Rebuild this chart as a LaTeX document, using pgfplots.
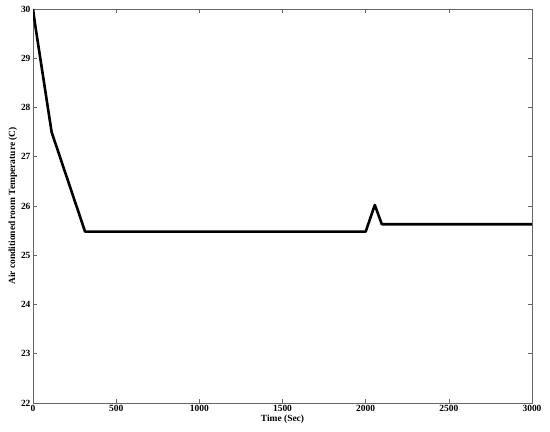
\documentclass[border=0pt]{standalone}
\usepackage{pgfplots}
\pgfplotsset{compat=1.18}
\usepackage{fontspec}
\setmainfont{Liberation Serif}
\begin{document}
\begin{tikzpicture}
\begin{axis}[
  scale only axis,
  width=499bp, height=394bp,
  xmin=0, xmax=3000, ymin=22, ymax=30,
  xtick={0,500,1000,1500,2000,2500,3000},
  xticklabels={0,500,1000,1500,2000,2500,3000},
  ytick={22,23,24,25,26,27,28,29,30},
  yticklabels={22,23,24,25,26,27,28,29,30},
  tick align=inside,
  major tick length=4bp,
  axis line style={gray!80!black, line width=0.6bp},
  every tick/.style={gray!80!black, line width=0.6bp},
  tick label style={font=\fontsize{9.5}{10}\selectfont\bfseries},
  xlabel={Time (Sec)},
  ylabel={Air conditioned room Temperature (C)},
  label style={font=\fontsize{9.5}{10}\selectfont\bfseries},
  xlabel style={yshift=4bp},
  ylabel style={yshift=-3bp},
  xticklabel style={yshift=1bp},
  yticklabel style={xshift=1bp},
]
\addplot[black, line width=2.6bp, line join=round] coordinates {
  (0,30) (12,29.7) (112,27.5) (313,25.48) (2000,25.48) (2055,26.02) (2097,25.63) (3000,25.63)
};
\end{axis}
\path (current axis.south west)+(-33bp,-29bp) (current axis.north east)+(18bp,9bp);
\end{tikzpicture}
\end{document}
